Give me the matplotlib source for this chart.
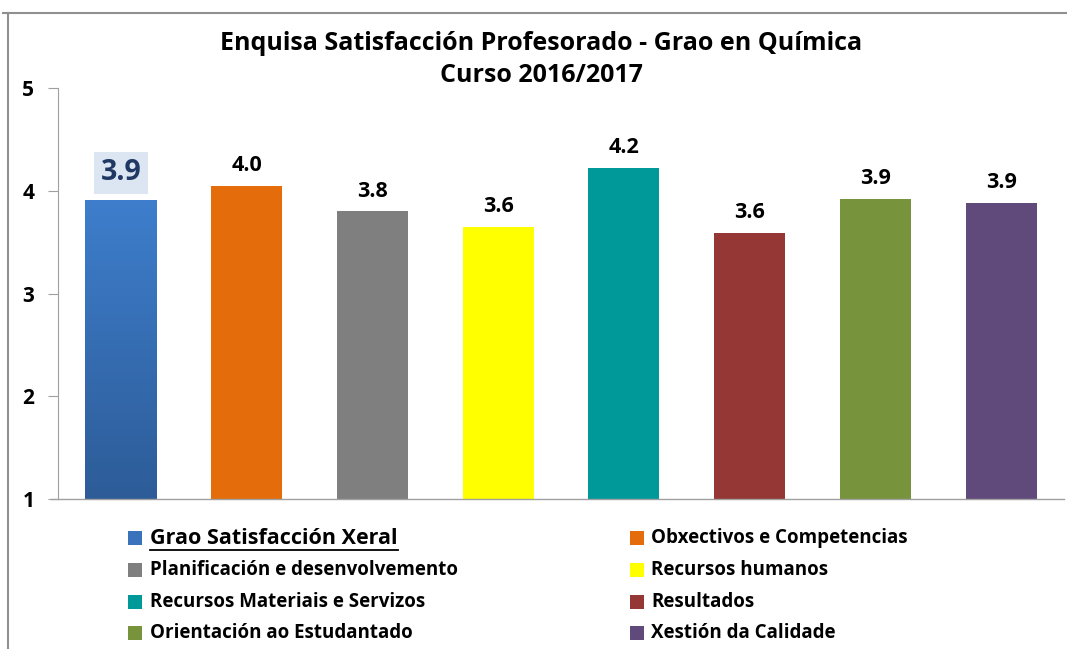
import matplotlib
matplotlib.use("Agg")
import matplotlib.pyplot as plt
import numpy as np
from matplotlib.patches import Rectangle
from matplotlib.lines import Line2D
from matplotlib.colors import LinearSegmentedColormap

categories = ["Grao Satisfacción Xeral", "Obxectivos e Competencias",
              "Planificación e desenvolvemento", "Recursos humanos",
              "Recursos Materiais e Servizos", "Resultados",
              "Orientación ao Estudantado", "Xestión da Calidade"]
values = [3.91, 4.05, 3.80, 3.65, 4.22, 3.59, 3.92, 3.88]
labels = ["3.9", "4.0", "3.8", "3.6", "4.2", "3.6", "3.9", "3.9"]
colors = ["#3A72BC", "#E46C0A", "#7F7F7F", "#FFFF00",
          "#009999", "#953735", "#77933C", "#604A7B"]
yticks = [1, 2, 3, 4, 5]

FONT = ["Open Sans", "DejaVu Sans"]
plt.rcParams["font.family"] = FONT

fig = plt.figure(figsize=(10.67, 6.49), dpi=100)
W, H = 1067, 649
ax = fig.add_axes([58 / W, 1 - 499 / H, (1064 - 58) / W, (499 - 88) / H])

x = np.arange(len(values))
bars = ax.bar(x, [v - 1 for v in values], bottom=1, width=0.565,
              color=colors, zorder=2)

# gradient on first bar
b0 = bars[0]
b0.set_facecolor("none")
grad = np.linspace(0, 1, 256).reshape(-1, 1)
cmap = LinearSegmentedColormap.from_list("bl", ["#2D5C98", "#3E7ECC"])
bx, by = b0.get_x(), b0.get_y()
im = ax.imshow(grad, cmap=cmap, origin="lower", aspect="auto",
               extent=[bx, bx + b0.get_width(), by, by + b0.get_height()], zorder=2)
im.set_clip_path(b0)
ax.set_xlim(-0.5, len(values) - 0.5)
ax.set_ylim(1, 5)

for i, (v, lab) in enumerate(zip(values, labels)):
    if i == 0:
        ax.annotate(lab, (i, v), xytext=(0, 9), textcoords="offset points",
                    ha="center", va="bottom", fontsize=20.5, fontweight="bold",
                    color="#1F3864",
                    bbox=dict(boxstyle="square,pad=0.22", fc="#DCE6F2", ec="none"))
    else:
        ax.annotate(lab, (i, v), xytext=(0, 7), textcoords="offset points",
                    ha="center", va="bottom", fontsize=15.5, fontweight="bold",
                    color="black")

ax.set_yticks(yticks)
ax.set_yticklabels([str(t) for t in yticks], fontsize=15, fontweight="bold")
ax.tick_params(axis="y", length=7, width=0.8, color="#A0A0A0", pad=10)
ax.tick_params(axis="x", bottom=False, labelbottom=False)
for s in ["top", "right", "bottom"]:
    ax.spines[s].set_visible(False)
ax.spines["left"].set_color("#A0A0A0")
ax.plot([-7 / (1064 - 58), 1.0], [0, 0], transform=ax.transAxes, color="#A0A0A0",
        lw=1, clip_on=False, zorder=3)

fig.text(541 / W, 1 - 43 / H, "Enquisa Satisfacción Profesorado - Grao en Química",
         ha="center", va="center", fontsize=18, fontweight="bold")
fig.text(541 / W, 1 - 76 / H, "Curso 2016/2017",
         ha="center", va="center", fontsize=18, fontweight="bold")

# chart border
fig.add_artist(Line2D([3 / W, 1], [1 - 13 / H, 1 - 13 / H], color="#909090", lw=1.5))
fig.add_artist(Line2D([8 / W, 8 / W], [0, 1 - 13 / H], color="#909090", lw=1.5))

# legend (manual 2-column layout)
rows = [538, 570, 602, 633]
colx = [(128, 150), (630, 651)]
for k in range(len(categories)):
    r = k // 2
    c = k % 2
    sx, tx = colx[c]
    yy = 1 - rows[r] / H
    fig.add_artist(Rectangle((sx / W, yy - 7 / H), 14 / W, 14 / H,
                             transform=fig.transFigure, fc=colors[k], ec="none"))
    if k == 0:
        t = fig.text(tx / W, yy, categories[k], ha="left", va="center",
                     fontsize=15.5, fontweight="bold")
        fig.canvas.draw()
        bb = t.get_window_extent()
        fig.add_artist(Line2D([bb.x0 / W, bb.x1 / W], [yy - 12 / H, yy - 12 / H],
                              color="black", lw=1.3))
    else:
        fig.text(tx / W, yy, categories[k], ha="left", va="center",
                 fontsize=13.5, fontweight="bold")

fig.savefig("out.png", dpi=100)
